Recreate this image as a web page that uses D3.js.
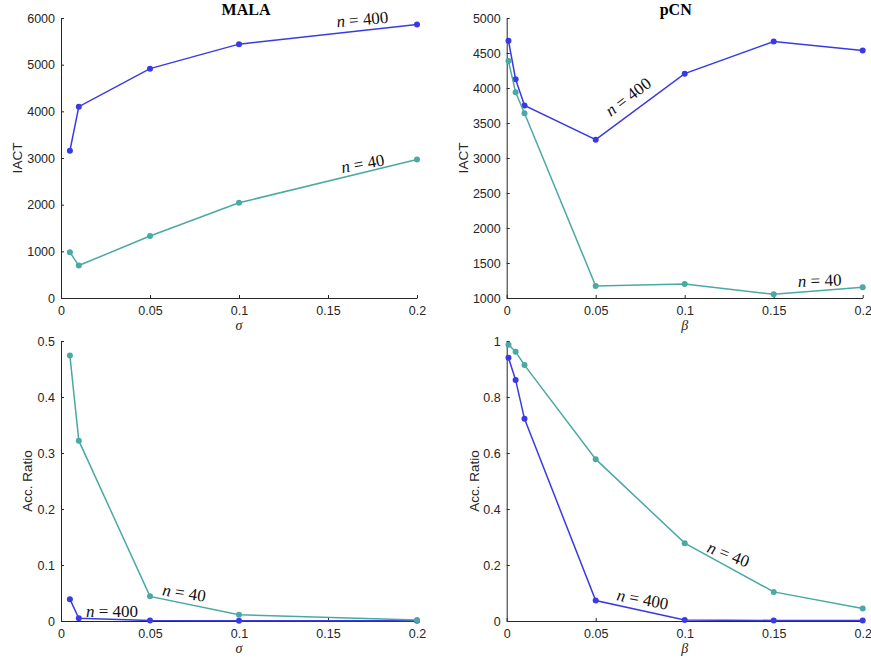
<!DOCTYPE html>
<html>
<head>
<meta charset="utf-8">
<script src="https://cdn.jsdelivr.net/npm/d3@7"></script>
<style>
  body { margin: 0; background: #fff; }
  .tick text { font-family: "Liberation Sans", Arial, sans-serif; font-size: 12.5px; fill: #262626; }
  .domain, .tick line { stroke: #262626; }
</style>
</head>
<body>
<div id="chart"></div>
<script>
// step sizes (x values) for each sampler
var sigmaMALA = [0.005, 0.01, 0.05, 0.1, 0.2];
var betaPCN = [0.001, 0.005, 0.01, 0.05, 0.1, 0.15, 0.2];

// IACT
var iactMALA400 = [3155, 4100, 4915, 5440, 5860];
var iactMALA40 = [980, 695, 1330, 2040, 2970];
var iactPCN400 = [4675, 4125, 3750, 3262, 4205, 4665, 4537];
var iactPCN40 = [4385, 3940, 3640, 1172, 1200, 1053, 1153];

// acceptance ratio
var accMALA400 = [0.039, 0.005, 0.001, 0.0006, 0.0006];
var accMALA40 = [0.474, 0.322, 0.044, 0.011, 0.002];
var accPCN400 = [0.94, 0.861, 0.722, 0.073, 0.004, 0.002, 0.002];
var accPCN40 = [0.987, 0.962, 0.914, 0.578, 0.278, 0.104, 0.045];

// tick labels
var xTicks = [0, 0.05, 0.1, 0.15, 0.2];
var yTicksIactMALA = [0, 1000, 2000, 3000, 4000, 5000, 6000];
var yTicksIactPCN = [1000, 1500, 2000, 2500, 3000, 3500, 4000, 4500, 5000];
var yTicksAccMALA = [0, 0.1, 0.2, 0.3, 0.4, 0.5];
var yTicksAccPCN = [0, 0.2, 0.4, 0.6, 0.8, 1];

var blue = "#3a3ae4", teal = "#4aa9a4";

var svg = d3.select("#chart").append("svg")
    .attr("width", 871)
    .attr("height", 659);

var fmt = d3.format("~g");

function panel(o) {
    var w = 356, h = 280;
    var g = svg.append("g")
        .attr("transform", "translate(" + o.left + "," + o.top + ")");

    var x = d3.scaleLinear().domain([0, 0.2]).range([0, w]);
    var y = d3.scaleLinear().domain(o.ydomain).range([h, 0]);

    g.append("g")
        .attr("transform", "translate(0," + h + ")")
        .call(d3.axisBottom(x).tickValues(xTicks).tickFormat(fmt)
            .tickSizeInner(-3).tickSizeOuter(0).tickPadding(8));
    g.append("g")
        .call(d3.axisLeft(y).tickValues(o.yticks).tickFormat(fmt)
            .tickSizeInner(-3).tickSizeOuter(0).tickPadding(6));

    var line = d3.line()
        .x(function (d) { return x(d[0]); })
        .y(function (d) { return y(d[1]); });

    o.series.forEach(function (s) {
        var pts = o.xs.map(function (v, i) { return [v, s.values[i]]; });
        g.append("path")
            .datum(pts)
            .attr("d", line)
            .attr("fill", "none")
            .attr("stroke", s.color)
            .attr("stroke-width", 1.5);
        g.selectAll(null)
            .data(pts)
            .enter()
            .append("circle")
            .attr("cx", function (d) { return x(d[0]); })
            .attr("cy", function (d) { return y(d[1]); })
            .attr("r", 3)
            .attr("fill", s.color);
    });

    o.notes.forEach(function (n) {
        var t = g.append("text")
            .attr("transform", "translate(" + x(n.x) + "," + y(n.y) + ") rotate(" + n.angle + ")")
            .style("font-family", "'Liberation Serif', 'Times New Roman', serif")
            .style("font-size", "17px")
            .attr("fill", "#111");
        t.append("tspan").style("font-style", "italic").text("n");
        t.append("tspan").text(" = " + n.label);
    });

    if (o.title) {
        g.append("text")
            .attr("x", o.titleX)
            .attr("y", -3)
            .attr("text-anchor", "middle")
            .style("font-family", "'Liberation Serif', 'Times New Roman', serif")
            .style("font-weight", "bold")
            .style("font-size", "16px")
            .attr("fill", "#000")
            .text(o.title);
    }

    g.append("text")
        .attr("transform", "translate(" + o.ylabX + "," + (h / 2) + ") rotate(-90)")
        .attr("text-anchor", "middle")
        .style("font-family", "'Liberation Sans', Arial, sans-serif")
        .style("font-size", "13.5px")
        .attr("fill", "#262626")
        .text(o.ylabel);

    g.append("text")
        .attr("x", w / 2)
        .attr("y", h + 32)
        .attr("text-anchor", "middle")
        .style("font-family", "'Liberation Serif', 'Times New Roman', serif")
        .style("font-style", "italic")
        .style("font-size", "14px")
        .attr("fill", "#262626")
        .text(o.xlabel);
}

panel({
    left: 61, top: 18, ydomain: [0, 6000], yticks: yTicksIactMALA,
    xs: sigmaMALA, title: "MALA", titleX: 185, ylabel: "IACT", ylabX: -39.5, xlabel: "σ",
    series: [{ values: iactMALA400, color: blue }, { values: iactMALA40, color: teal }],
    notes: [{ x: 0.155, y: 5800, angle: -5, label: "400" },
            { x: 0.158, y: 2680, angle: -10, label: "40" }]
});
panel({
    left: 506.7, top: 18, ydomain: [1000, 5000], yticks: yTicksIactPCN,
    xs: betaPCN, title: "pCN", titleX: 169, ylabel: "IACT", ylabX: -38.7, xlabel: "β",
    series: [{ values: iactPCN400, color: blue }, { values: iactPCN40, color: teal }],
    notes: [{ x: 0.0585, y: 3585, angle: -37, label: "400" },
            { x: 0.1637, y: 1157, angle: -2, label: "40" }]
});
panel({
    left: 61, top: 341, ydomain: [0, 0.5], yticks: yTicksAccMALA,
    xs: sigmaMALA, ylabel: "Acc. Ratio", ylabX: -29, xlabel: "σ",
    series: [{ values: accMALA400, color: blue }, { values: accMALA40, color: teal }],
    notes: [{ x: 0.0566, y: 0.046, angle: 8.5, label: "40" },
            { x: 0.014, y: 0.0072, angle: 0, label: "400" }]
});
panel({
    left: 506.7, top: 341, ydomain: [0, 1], yticks: yTicksAccPCN,
    xs: betaPCN, ylabel: "Acc. Ratio", ylabX: -27.7, xlabel: "β",
    series: [{ values: accPCN400, color: blue }, { values: accPCN40, color: teal }],
    notes: [{ x: 0.112, y: 0.2476, angle: 21.5, label: "40" },
            { x: 0.0614, y: 0.0743, angle: 10.5, label: "400" }]
});
</script>
</body>
</html>
